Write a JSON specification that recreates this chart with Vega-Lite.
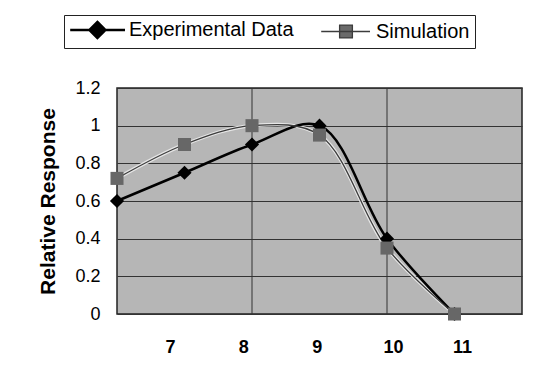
{
  "$schema": "https://vega.github.io/schema/vega-lite/v6.json",
  "width": 405,
  "height": 226,
  "autosize": "none",
  "padding": {"left": 117, "top": 88, "right": 13, "bottom": 77},
  "background": "white",
  "config": {
    "font": "Liberation Sans",
    "view": {"fill": "#b6b6b6", "stroke": "#222222", "strokeWidth": 1.5}
  },
  "data": {
    "values": [
      {"x": 6, "y": 0.6, "series": "Experimental Data"},
      {"x": 7, "y": 0.75, "series": "Experimental Data"},
      {"x": 8, "y": 0.9, "series": "Experimental Data"},
      {"x": 9, "y": 1.0, "series": "Experimental Data"},
      {"x": 10, "y": 0.4, "series": "Experimental Data"},
      {"x": 11, "y": 0.0, "series": "Experimental Data"},
      {"x": 6, "y": 0.72, "series": "Simulation"},
      {"x": 7, "y": 0.9, "series": "Simulation"},
      {"x": 8, "y": 1.0, "series": "Simulation"},
      {"x": 9, "y": 0.95, "series": "Simulation"},
      {"x": 10, "y": 0.35, "series": "Simulation"},
      {"x": 11, "y": 0.0, "series": "Simulation"}
    ]
  },
  "layer": [
    {
      "data": {"values": [{"g": 8}, {"g": 10}]},
      "mark": {"type": "rule", "color": "#333333", "strokeWidth": 1},
      "encoding": {
        "x": {
          "field": "g", "type": "quantitative",
          "scale": {"domain": [6, 12], "nice": false, "zero": false},
          "axis": {"values": [6.785, 7.87, 8.96, 10.09, 11.11], "tickCount": 20, "labelExpr": "format(round(datum.value), 'd')",
                   "labelOverlap": false, "grid": false, "ticks": false, "domain": false, "title": null,
                   "labelFontSize": 18, "labelFontWeight": "bold", "labelColor": "black", "labelPadding": 24}
        }
      }
    },
    {
      "transform": [{"filter": "datum.series === 'Simulation'"}],
      "mark": {"type": "line", "interpolate": "catmull-rom", "color": "#e6e6e6", "strokeWidth": 3.5},
      "encoding": {
        "x": {"field": "x", "type": "quantitative"},
        "y": {
          "field": "y", "type": "quantitative",
          "scale": {"domain": [0, 1.2], "nice": false},
          "axis": {"values": [0, 0.2, 0.4, 0.6, 0.8, 1, 1.2], "tickCount": 20, "labelExpr": "format(datum.value, '~g')", "labelOverlap": false,
                   "grid": true, "gridColor": "#333333", "gridWidth": 1,
                   "ticks": false, "domain": false, "labelFontSize": 18, "labelColor": "black", "labelPadding": 17,
                   "title": "Relative Response", "titleFontSize": 21, "titleFontWeight": "bold", "titleColor": "black", "titlePadding": 16}
        }
      }
    },
    {
      "mark": {"type": "line", "interpolate": "catmull-rom"},
      "encoding": {
        "x": {"field": "x", "type": "quantitative"},
        "y": {"field": "y", "type": "quantitative"},
        "color": {
          "field": "series", "type": "nominal",
          "scale": {"domain": ["Experimental Data", "Simulation"], "range": ["#000000", "#3c3c3c"]},
          "legend": {
            "orient": "none", "legendX": -53, "legendY": -73, "direction": "horizontal",
            "title": null, "strokeColor": "#222222", "fillColor": "white", "padding": 5,
            "labelFontSize": 20, "labelColor": "black", "labelFont": "Liberation Sans", "labelLimit": 400,
            "symbolSize": 256, "symbolStrokeWidth": 1.5, "columnPadding": 22, "labelOffset": 40,
            "encode": {
              "symbols": {
                "update": {
                  "shape": {"signal": "datum.value === 'Experimental Data' ? 'M-1.1,0H5.75M2.3,-1L3.3,0L2.3,1L1.3,0Z' : 'M-0.6,0H5.5M1.7,-0.8H3.3V0.8H1.7Z'"},
                  "fill": {"signal": "datum.value === 'Experimental Data' ? '#000000' : '#6a6a6a'"},
                  "stroke": {"signal": "datum.value === 'Experimental Data' ? '#000000' : '#444444'"},
                  "strokeWidth": {"signal": "datum.value === 'Experimental Data' ? 2 : 1.2"},
                  "opacity": {"value": 1}
                }
              }
            }
          }
        },
        "strokeWidth": {
          "field": "series", "type": "nominal",
          "scale": {"domain": ["Experimental Data", "Simulation"], "range": [2.5, 1.3]},
          "legend": null
        }
      }
    },
    {
      "transform": [{"filter": "datum.series === 'Experimental Data'"}],
      "mark": {"type": "point", "filled": true, "opacity": 1, "shape": "diamond", "size": 200, "color": "#000000"},
      "encoding": {
        "x": {"field": "x", "type": "quantitative"},
        "y": {"field": "y", "type": "quantitative"}
      }
    },
    {
      "transform": [{"filter": "datum.series === 'Simulation'"}],
      "mark": {"type": "point", "filled": true, "opacity": 1, "shape": "square", "size": 170, "color": "#676767"},
      "encoding": {
        "x": {"field": "x", "type": "quantitative"},
        "y": {"field": "y", "type": "quantitative"}
      }
    }
  ]
}
